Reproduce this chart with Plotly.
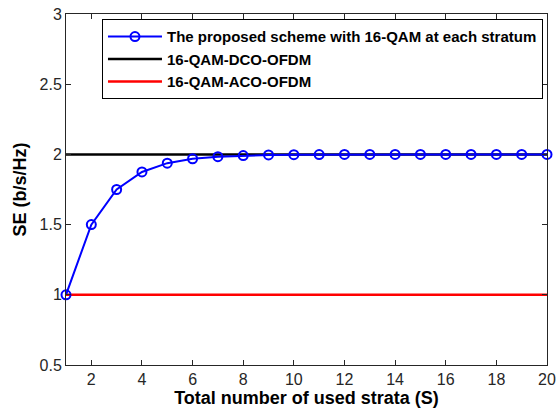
import plotly.graph_objects as go

S = list(range(1, 21))
se_proposed = [1.0, 1.5, 1.75, 1.875, 1.9375, 1.969, 1.984, 1.992, 1.996, 1.998,
               1.999, 2.0, 2.0, 2.0, 2.0, 2.0, 2.0, 2.0, 2.0, 2.0]
se_dco = [2.0] * len(S)
se_aco = [1.0] * len(S)

names = ["The proposed scheme with 16-QAM at each stratum",
         "16-QAM-DCO-OFDM", "16-QAM-ACO-OFDM"]
x_title = "Total number of used strata (S)"
y_title = "SE (b/s/Hz)"
x_ticks = [2, 4, 6, 8, 10, 12, 14, 16, 18, 20]
y_ticks = [0.5, 1, 1.5, 2, 2.5, 3]
y_ticklabels = ["0.5", "1", "1.5", "2", "2.5", "3"]

fig = go.Figure()
fig.add_trace(go.Scatter(x=S, y=se_dco, mode="lines", name=names[1],
                         line=dict(color="black", width=2.5), showlegend=False))
fig.add_trace(go.Scatter(x=S, y=se_aco, mode="lines", name=names[2],
                         line=dict(color="#ff0000", width=2.5), showlegend=False))
fig.add_trace(go.Scatter(x=S, y=se_proposed, mode="lines+markers", name=names[0],
                         line=dict(color="#0000ff", width=2),
                         marker=dict(symbol="circle-open", size=9, color="#0000ff",
                                     line=dict(width=2)),
                         cliponaxis=False))
# legend entries in order
fig.add_trace(go.Scatter(x=[None], y=[None], mode="lines", name=names[1],
                         line=dict(color="black", width=2.5)))
fig.add_trace(go.Scatter(x=[None], y=[None], mode="lines", name=names[2],
                         line=dict(color="#ff0000", width=2.5)))

axis_common = dict(showline=True, linecolor="#262626", linewidth=1, mirror="ticks",
                   ticks="inside", ticklen=5, tickcolor="#262626", showgrid=False,
                   zeroline=False, automargin=False,
                   tickfont=dict(family="Liberation Sans", size=16, color="#262626"))

fig.update_layout(
    width=557, height=417,
    margin=dict(l=66, r=10, t=14, b=52),
    paper_bgcolor="white", plot_bgcolor="white",
    xaxis=dict(range=[1, 20], tickvals=x_ticks,
               title=dict(text=x_title, standoff=4,
                          font=dict(family="Liberation Sans", size=18, weight="bold", color="black")),
               **axis_common),
    yaxis=dict(range=[0.5, 3], tickvals=y_ticks, ticktext=y_ticklabels,
               title=dict(text=y_title, standoff=8,
                          font=dict(family="Liberation Sans", size=18, weight="bold", color="black")),
               **axis_common),
    legend=dict(x=0.0748, y=0.985, xanchor="left", yanchor="top",
                bgcolor="white", bordercolor="black", borderwidth=1,
                itemwidth=54, tracegroupgap=0, entrywidth=435, entrywidthmode="pixels",
                font=dict(family="Liberation Sans", size=15, weight="bold", color="black")),
)

fig.write_html("out.html")
